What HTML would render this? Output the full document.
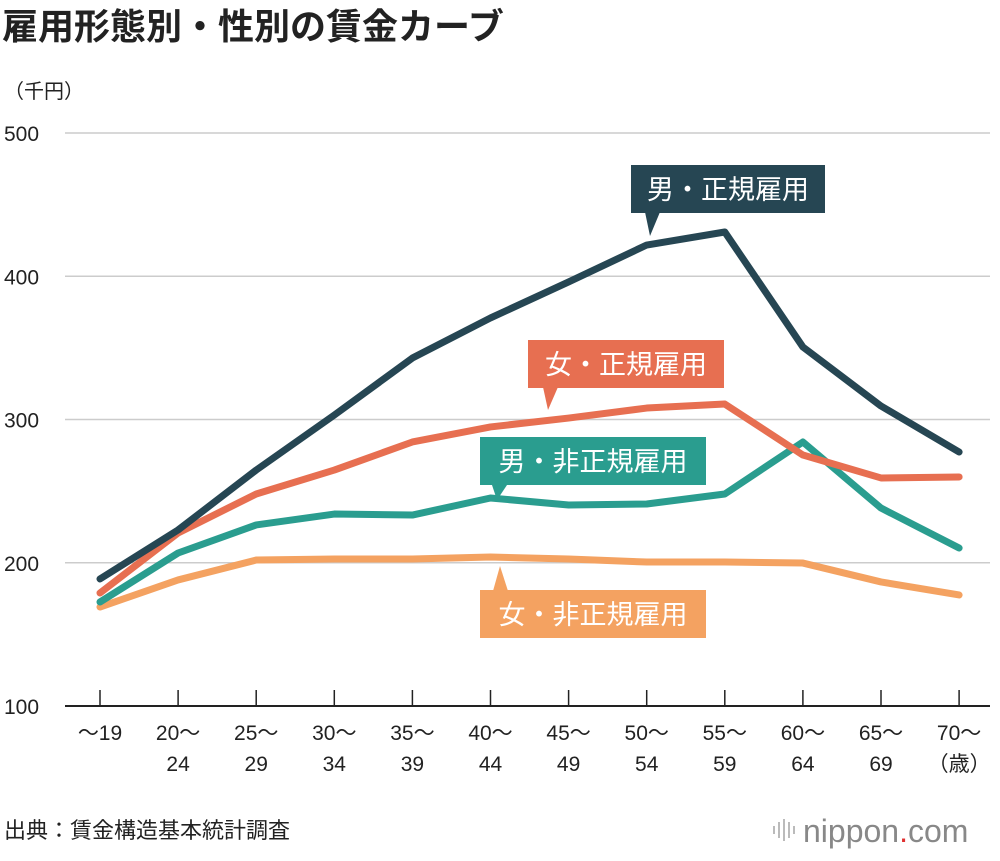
<!DOCTYPE html>
<html><head><meta charset="utf-8">
<style>
body{margin:0;background:#fff;width:1000px;height:856px;overflow:hidden;font-family:"Liberation Sans","Noto Sans CJK JP",sans-serif;}
svg text{font-family:"Liberation Sans","Noto Sans CJK JP",sans-serif;}
</style></head>
<body>
<svg id="chart" width="1000" height="856">
<text x="2" y="39" font-size="36" font-weight="bold" fill="#222">雇用形態別・性別の賃金カーブ</text>
<text x="4" y="98" font-size="20" fill="#222">（千円）</text>
<g id="grid"></g>
<g id="xaxis"></g>
<g id="lines"></g>
<g id="labels"></g>
<text x="4" y="838" font-size="22" fill="#222">出典：賃金構造基本統計調査</text>
<g>
<g fill="#bbb"><rect x="773" y="826" width="2" height="8"/><rect x="778" y="822" width="2" height="16"/><rect x="783" y="819" width="2" height="22"/><rect x="788" y="822" width="2" height="16"/><rect x="793" y="826" width="2" height="8"/></g>
<text x="803" y="842" font-size="32" fill="#888">nippon<tspan fill="#e03030">.</tspan>com</text>
</g>
</svg>
<script>
const categories=["〜19","20〜|24","25〜|29","30〜|34","35〜|39","40〜|44","45〜|49","50〜|54","55〜|59","60〜|64","65〜|69","70〜|（歳）"];
const menRegular=[188.7,222.9,264.7,303.1,342.9,370.9,396,421.8,430.9,350.6,309.4,277.3];
const womenRegular=[178.9,220.8,248,264.7,284.3,294.8,301,308,310.8,275.2,259.2,259.9];
const menNonRegular=[172.6,206.8,226.4,234,233.3,245.2,240.3,241,248,284.3,238.2,210.3];
const womenNonRegular=[169.1,188,201.9,202.6,202.6,204,202.6,200.5,200.5,199.8,186.6,177.5];
const yTicks=[100,200,300,400,500];
const NS="http://www.w3.org/2000/svg";
function x(i){return 100+i*78.1;}
function y(v){return 706-(v-100)*1.4325;}
function mk(tag,attrs,parent){const e=document.createElementNS(NS,tag);for(const k in attrs)e.setAttribute(k,attrs[k]);parent.appendChild(e);return e;}
const grid=document.getElementById('grid');
yTicks.forEach(t=>{
 const l=mk('line',{x1:65,x2:990,y1:y(t),y2:y(t),stroke:t===100?'#222':'#ccc','stroke-width':t===100?2:1.5},grid);
 
 
 const tx=mk('text',{x:4,y:y(t)+8,'font-size':21,fill:'#222'},grid);tx.textContent=t;
 
 
});
const xa=document.getElementById('xaxis');
categories.forEach((c,i)=>{
 const tk=mk('line',{x1:x(i),x2:x(i),y1:690,y2:706,stroke:'#222','stroke-width':1.5},xa);
 
 
 const parts=c.split('|');
 parts.forEach((p,j)=>{
  const t=mk('text',{x:x(i),y:740+j*31,'font-size':21,fill:'#222','text-anchor':'middle'},xa);t.textContent=p;
  
  
 });
});
const series=[[womenNonRegular,'#f4a261','women-nonregular-line'],[menNonRegular,'#2a9d8f','men-nonregular-line'],[womenRegular,'#e76f51','women-regular-line'],[menRegular,'#264653','men-regular-line']];
const lg=document.getElementById('lines');
series.forEach(([d,c,n])=>{
 const p=mk('polyline',{points:d.map((v,i)=>x(i)+','+y(v)).join(' '),fill:'none',stroke:c,'stroke-width':7,'stroke-linejoin':'round','stroke-linecap':'round'},lg);
 
 
});
const labels=[
 ['男・正規雇用','#264653',631,165,194,'M645,212 L660,212 L650,236 Z','label-men-regular'],
 ['女・正規雇用','#e76f51',528,340,196,'M543,387 L558,387 L548,410 Z','label-women-regular'],
 ['男・非正規雇用','#2a9d8f',480,437,226,'M492,485 L507,485 L497,500 Z','label-men-nonregular'],
 ['女・非正規雇用','#f4a261',480,590,226,'M493,591 L508,591 L500,566 Z','label-women-nonregular']];
const lb=document.getElementById('labels');
labels.forEach(([t,c,bx,by,w,tri,n])=>{
 const g=mk('g',{},lb);
 
 
 mk('rect',{x:bx,y:by,width:w,height:48,fill:c},g);
 mk('path',{d:tri,fill:c},g);
 const tx=mk('text',{x:bx+w/2,y:by+34,'font-size':27,fill:'#fff','text-anchor':'middle'},g);tx.textContent=t;
});
</script>
</body></html>
